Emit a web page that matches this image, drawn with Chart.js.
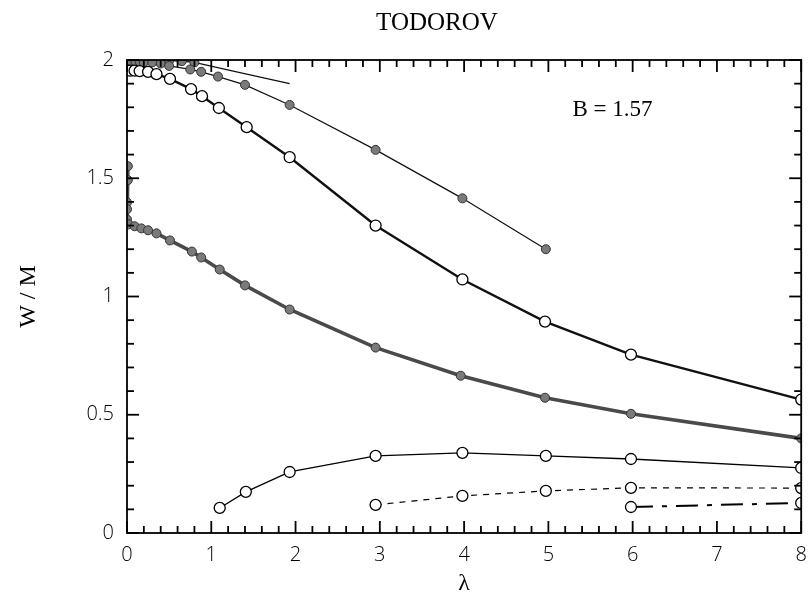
<!DOCTYPE html>
<html>
<head>
<meta charset="utf-8">
<script src="https://cdn.jsdelivr.net/npm/chart.js@4.4.1/dist/chart.umd.min.js"></script>
<style>
  html, body { margin: 0; padding: 0; background: #fff; }
  #wrap { width: 808px; height: 600px; }
</style>
</head>
<body>
<div id="wrap"><canvas id="myChart" width="808" height="600"></canvas></div>
<script>
const ctx = document.getElementById('myChart').getContext('2d');

// lambda values / W/M values
const topFilledX = [0, 0.05, 0.1, 0.15, 0.2, 0.3, 0.4, 0.5, 0.75, 0.88, 1.08, 1.4, 1.93, 2.95, 3.98, 4.97];
const topFilledY = [1.995, 1.995, 1.993, 1.993, 1.99, 1.99, 1.985, 1.975, 1.96, 1.95, 1.93, 1.895, 1.81, 1.62, 1.415, 1.2];

const edgeX = [0.05, 0.2, 0.35, 0.5, 0.65, 0.8, 1.3, 1.93]; // short upper curve
const edgeY = [2.0, 2.0, 1.998, 1.997, 1.995, 1.99, 1.95, 1.9];
const edgeMarked = [true, true, true, true, true, true, false, false];

const openThickX = [0.04, 0.09, 0.15, 0.25, 0.35, 0.51, 0.76, 0.89, 1.09, 1.42, 1.93, 2.95, 3.98, 4.96, 5.98, 8];
const openThickY = [1.955, 1.955, 1.953, 1.95, 1.94, 1.92, 1.877, 1.847, 1.797, 1.716, 1.589, 1.30, 1.072, 0.894, 0.754, 0.564];

const lowFilledX = [0.01, 0.01, 0.0, 0.0, 0.0, 0.02, 0.09, 0.17, 0.25, 0.35, 0.51, 0.77, 0.88, 1.1, 1.4, 1.93, 2.95, 3.96, 4.96, 5.98, 8];
const lowFilledY = [1.551, 1.492, 1.398, 1.369, 1.326, 1.305, 1.297, 1.288, 1.28, 1.267, 1.237, 1.19, 1.165, 1.114, 1.047, 0.945, 0.784, 0.665, 0.572, 0.504, 0.40];

const openThinX = [1.1, 1.41, 1.93, 2.95, 3.98, 4.97, 5.98, 8];
const openThinY = [0.106, 0.174, 0.258, 0.326, 0.339, 0.326, 0.313, 0.275];

const dashedX = [2.95, 3.98, 4.97, 5.98, 8];
const dashedY = [0.119, 0.157, 0.178, 0.191, 0.19];

const dashDotX = [5.98, 8];
const dashDotY = [0.11, 0.127];

const xTicks = [0, 1, 2, 3, 4, 5, 6, 7, 8];
const yTicks = [0, 0.5, 1, 1.5, 2];

const pts = (xs, ys) => xs.map((x, i) => ({ x: x, y: ys[i] }));

const filled = { pointBackgroundColor: '#7a7a7a', pointBorderColor: '#333', pointBorderWidth: 1, pointRadius: 4.5 };
const open = { pointBackgroundColor: '#fff', pointBorderColor: '#000', pointBorderWidth: 1.3, pointRadius: 5.5 };

function tickLine(c, x1, y1, x2, y2) {
    c.beginPath();
    c.moveTo(x1, y1);
    c.lineTo(x2, y2);
    c.stroke();
}

// frame with inward ticks, title and the B label
const framePlugin = {
    id: 'frame',
    afterDraw(chart) {
        const c = chart.ctx, a = chart.chartArea;
        const xs = chart.scales.x, ys = chart.scales.y;
        c.save();
        c.strokeStyle = '#000';
        c.lineWidth = 1.8;
        c.strokeRect(a.left, a.top, a.right - a.left, a.bottom - a.top);
        c.lineWidth = 1.8;
        for (let i = 0; i <= 40; i++) {
            const px = xs.getPixelForValue(i * 0.2);
            const len = (i % 5 === 0) ? 12 : 7;
            tickLine(c, px, a.bottom, px, a.bottom - len);
            tickLine(c, px, a.top, px, a.top + len);
        }
        for (let i = 0; i <= 20; i++) {
            const py = ys.getPixelForValue(i * 0.1);
            const len = (i % 5 === 0) ? 12 : 7;
            tickLine(c, a.left, py, a.left + len, py);
            tickLine(c, a.right, py, a.right - len, py);
        }
        c.fillStyle = '#000';
        c.textAlign = 'center';
        c.textBaseline = 'middle';
        c.font = '23px "Liberation Serif", serif';
        c.fillText('B = 1.57', xs.getPixelForValue(5.76), ys.getPixelForValue(1.79));
        c.font = '25px "Liberation Serif", serif';
        c.fillText('TODOROV', 437, 23);
        c.restore();
    }
};

new Chart(ctx, {
    type: 'scatter',
    data: {
        datasets: [
            { data: pts(dashDotX, dashDotY), showLine: true, borderColor: '#000', borderWidth: 2, borderDash: [22, 9, 5, 9], ...open },
            { data: pts(dashedX, dashedY), showLine: true, borderColor: '#000', borderWidth: 1.2, borderDash: [6, 6], ...open },
            { data: pts(openThinX, openThinY), showLine: true, borderColor: '#000', borderWidth: 1.3, ...open },
            { data: pts(openThickX, openThickY), showLine: true, borderColor: '#111', borderWidth: 2.4, ...open },
            { data: pts(topFilledX, topFilledY), showLine: true, borderColor: '#111', borderWidth: 1.2, ...filled },
            { data: pts(edgeX, edgeY), showLine: true, borderColor: '#111', borderWidth: 1.3, ...filled,
              pointRadius: edgeMarked.map(m => m ? 4.5 : 0) },
            { data: pts(lowFilledX, lowFilledY), showLine: true, borderColor: '#4a4a4a', borderWidth: 3.6, ...filled },
        ],
    },
    options: {
        responsive: false,
        animation: false,
        layout: { padding: { left: 0, right: 0, top: 60, bottom: 0 } },
        plugins: {
            legend: { display: false },
            tooltip: { enabled: false },
            title: { display: false },
        },
        scales: {
            x: {
                type: 'linear', min: 0, max: 8,
                afterBuildTicks: s => { s.ticks = xTicks.map(v => ({ value: v })); },
                afterFit: s => { s.height = 67; s.paddingRight = 3; },
                grid: { display: false, drawTicks: false },
                border: { display: false },
                ticks: { color: '#000', padding: 10, callback: v => String(v),
                         font: { family: '"Open Sans", sans-serif', size: 20, weight: 300 } },
                title: { display: true, text: 'λ', color: '#000', padding: { top: 0, bottom: 2 },
                         font: { family: '"Liberation Serif", serif', size: 24 } },
            },
            y: {
                type: 'linear', min: 0, max: 2,
                afterBuildTicks: s => { s.ticks = yTicks.map(v => ({ value: v })); },
                afterFit: s => { s.width = 127; },
                grid: { display: false, drawTicks: false },
                border: { display: false },
                ticks: { color: '#000', padding: 13, callback: v => String(v),
                         font: { family: '"Open Sans", sans-serif', size: 20, weight: 300 } },
                title: { display: true, text: 'W / M', color: '#000', padding: { top: 14, bottom: 0 },
                         font: { family: '"Liberation Serif", serif', size: 24 } },
            },
        },
    },
    plugins: [framePlugin],
});
</script>
</body>
</html>
